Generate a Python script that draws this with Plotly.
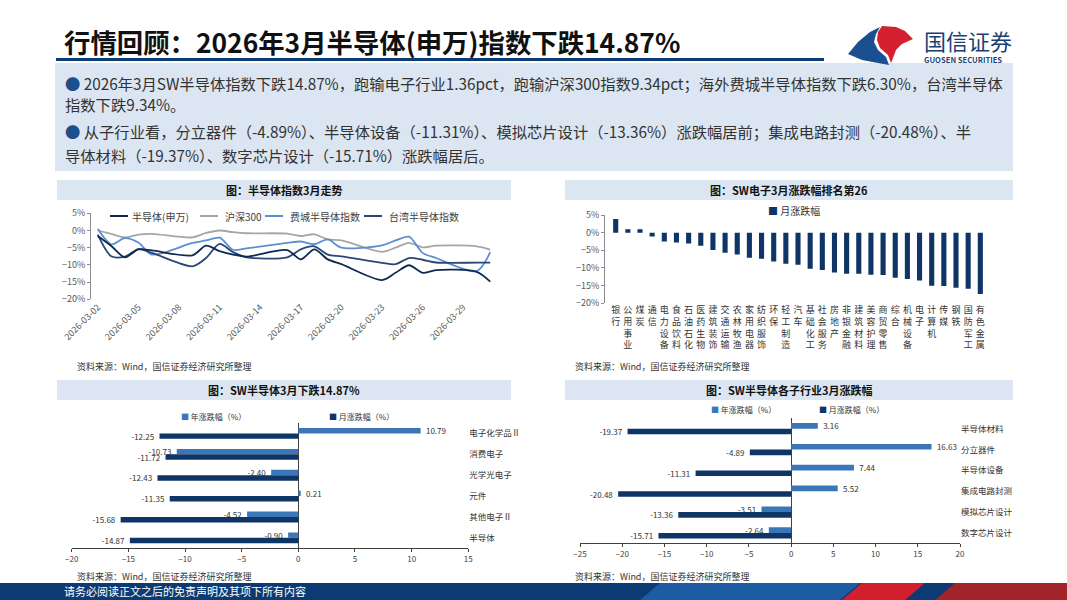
import pandas as pd
import plotly.graph_objects as go

W, H = 1067, 600
FONT = 'Noto Sans CJK SC'
NAVY = '#0f3566'
MID = '#3b77b8'
TICK = '#595959'
PALE = '#dce6f2'

# chart 1: 半导体指数3月走势 (cumulative change, %)
trade_dates = ['2026-03-02', '2026-03-03', '2026-03-04', '2026-03-05', '2026-03-06',
               '2026-03-09', '2026-03-10', '2026-03-11', '2026-03-12', '2026-03-13',
               '2026-03-16', '2026-03-17', '2026-03-18', '2026-03-19', '2026-03-20',
               '2026-03-23', '2026-03-24', '2026-03-25', '2026-03-26', '2026-03-27',
               '2026-03-30', '2026-03-31']
sw_semi = [-1.6, -4.5, -7.8, -5.5, -5.8, -7.2, -4.4, -6.0, -7.0, -7.6,
           -5.7, -8.4, -5.5, -8.4, -9.8, -14.4, -12.3, -10.1, -12.3, -11.5, -12.0, -14.87]
hs300 = [0.0, -1.0, -2.0, -1.2, -1.0, -2.0, -0.7, 0.0, -0.5, -0.8,
         -0.9, -1.6, -1.1, -2.6, -2.9, -6.2, -5.0, -3.6, -4.9, -4.4, -4.6, -5.53]
sox = [0.5, -4.0, -2.2, -3.5, -7.0, -3.6, -2.9, -2.1, -5.6, -5.2,
       -3.6, -3.2, -4.0, -2.6, -5.0, -4.3, -2.9, -1.8, -6.5, -8.0, -11.8, -6.30]
tw_semi = [-1.2, -7.5, -7.6, -5.4, -6.5, -10.4, -8.0, -3.9, -6.3, -7.8,
           -7.8, -5.5, -4.6, -7.0, -7.5, -9.4, -9.8, -8.0, -8.5, -9.3, -9.34, -9.34]

# chart 2: 申万一级行业3月涨跌幅 (%)
sw_inds = ['银行', '公用事业', '煤炭', '通信', '电力设备', '食品饮料', '石油石化', '医药生物',
           '建筑装饰', '交通运输', '农林牧渔', '家用电器', '纺织服饰', '环保', '轻工制造', '汽车',
           '基础化工', '社会服务', '房地产', '非银金融', '建筑材料', '美容护理', '商贸零售', '综合',
           '机械设备', '电子', '计算机', '传媒', '钢铁', '国防军工', '有色金属']
sw_month = [3.9, 1.0, 1.0, -1.1, -2.5, -2.8, -3.1, -3.7, -4.9, -5.7, -6.2, -7.1, -7.4,
            -8.2, -8.8, -9.1, -10.2, -10.6, -11.3, -11.6, -11.6, -11.9, -12.0, -12.8,
            -13.1, -13.51, -15.0, -15.1, -15.6, -15.9, -17.4]

# chart 3: 电子二级行业
elec_subs = ['电子化学品Ⅱ', '消费电子', '光学光电子', '元件', '其他电子Ⅱ', '半导体']
elec_year = [10.79, -10.73, -2.40, 0.21, -4.52, -0.90]
elec_month = [-12.25, -11.72, -12.43, -11.35, -15.68, -14.87]

# chart 4: 半导体子行业
semi_subs = ['半导体材料', '分立器件', '半导体设备', '集成电路封测', '模拟芯片设计', '数字芯片设计']
semi_year = [3.16, 16.63, 7.44, 5.52, -3.51, -2.64]
semi_month = [-19.37, -4.89, -11.31, -20.48, -13.36, -15.71]


def fx(x):
    return x / W


def fy(y):
    return 1 - y / H


def zero_pos(top, bottom, lo, hi):
    # paper position of value 0 on a vertical range
    return fy(bottom) + (0 - lo) / (hi - lo) * (fy(top) - fy(bottom))


def rect(x0, y0, x1, y1, color, layer='below'):
    return dict(type='rect', xref='paper', yref='paper', x0=fx(x0), x1=fx(x1),
                y0=fy(y1), y1=fy(y0), fillcolor=color, line_width=0, layer=layer)


def poly(pts, color):
    d = 'M ' + ' L '.join(f'{fx(a):.5f},{fy(b):.5f}' for a, b in pts) + ' Z'
    return dict(type='path', xref='paper', yref='paper', path=d, fillcolor=color,
                line_width=0, layer='above')


def seg(x0, x1, y, color, width=2):
    return dict(type='line', xref='paper', yref='paper', x0=fx(x0), x1=fx(x1),
                y0=fy(y), y1=fy(y), line=dict(color=color, width=width))


def txt(x, y, text, size=9, color='#333333', anchor='left'):
    return dict(xref='paper', yref='paper', x=fx(x), y=fy(y), text=text, showarrow=False,
                xanchor=anchor, yanchor='middle', font=dict(family=FONT, size=size, color=color))


def bar_labels(vals):
    # pad away from the bar end
    return [f'{v:.2f}   ' if v < 0 else f'   {v:.2f}' for v in vals]


fig = go.Figure()

# ---- chart 1 lines
line_cols = {'半导体(申万)': '#0c2a52', '沪深300': '#a6a6a6',
             '费城半导体指数': '#5b8fd4', '台湾半导体指数': '#2a4677'}
for name, vals in [('沪深300', hs300), ('费城半导体指数', sox),
                   ('台湾半导体指数', tw_semi), ('半导体(申万)', sw_semi)]:
    fig.add_trace(go.Scatter(x=trade_dates, y=vals, name=name, mode='lines',
                             line=dict(color=line_cols[name], width=1.8, shape='spline', smoothing=0.8),
                             xaxis='x', yaxis='y'))

# ---- chart 2 bars
fig.add_trace(go.Bar(x=sw_inds, y=sw_month, name='月涨跌幅', marker_color=NAVY, width=0.42,
                     xaxis='x3', yaxis='y3'))

# ---- chart 3 / 4 horizontal bars
lbl = dict(textposition='outside', constraintext='none', cliponaxis=False,
           textfont=dict(family=FONT, size=8, color='#333333'))
fig.add_trace(go.Bar(y=elec_subs, x=elec_year, orientation='h', name='年涨跌幅（%）',
                     text=bar_labels(elec_year), marker_color=MID, width=0.26, offset=-0.26,
                     xaxis='x5', yaxis='y5', **lbl))
fig.add_trace(go.Bar(y=elec_subs, x=elec_month, orientation='h', name='月涨跌幅（%）',
                     text=bar_labels(elec_month), marker_color=NAVY, width=0.26, offset=0.0,
                     xaxis='x5', yaxis='y5', **lbl))
fig.add_trace(go.Bar(y=semi_subs, x=semi_year, orientation='h', name='年涨跌幅（%）',
                     text=bar_labels(semi_year), marker_color=MID, width=0.27, offset=-0.27,
                     xaxis='x6', yaxis='y6', **lbl))
fig.add_trace(go.Bar(y=semi_subs, x=semi_month, orientation='h', name='月涨跌幅（%）',
                     text=bar_labels(semi_month), marker_color=NAVY, width=0.27, offset=0.0,
                     xaxis='x6', yaxis='y6', **lbl))

tickfont = dict(family=FONT, size=9, color=TICK)
small_font = dict(family=FONT, size=8, color='#404040')

date_rng = ['2026-03-01 12:00', '2026-03-31 12:00']
label_days = [d.strftime('%Y-%m-%d') for d in pd.date_range('2026-03-02', '2026-03-31', freq='3D')]
bound_days = [d.strftime('%Y-%m-%d %H:%M') for d in pd.date_range(date_rng[0], date_rng[1], freq='3D')]
ind_range = [-0.88, 30.55]
c1 = (213.3, 299.3)
c2 = (215.0, 303.3)
c3 = (423.0, 548.3)
c4 = (418.3, 543.3)
x5_dom = [fx(71.7), fx(468.3)]
x6_dom = [fx(580), fx(960)]
sub_bounds = [i - 0.5 for i in range(len(elec_subs) + 1)]

fig.update_layout(
    template='none',
    width=W, height=H, margin=dict(l=0, r=0, t=0, b=0, pad=0, autoexpand=False),
    paper_bgcolor='white', plot_bgcolor='rgba(0,0,0,0)',
    showlegend=False, barmode='overlay',
    font=dict(family=FONT, color='#333333'),
    xaxis=dict(domain=[fx(91), fx(497)], anchor='y', type='date', range=date_rng,
               tickvals=label_days, tickformat='%Y-%m-%d', tickangle=-45, tickfont=tickfont,
               showgrid=False, showline=False, ticks='', zeroline=False),
    yaxis=dict(domain=[fy(c1[1]), fy(c1[0])], anchor='x', range=[-20, 5], dtick=5,
               ticksuffix='%', tickfont=tickfont, showgrid=False, zeroline=False,
               showline=True, linecolor='#8c8c8c', ticks='outside', ticklen=3, tickcolor='#8c8c8c'),
    xaxis2=dict(overlaying='x', anchor='free', position=zero_pos(*c1, -20, 5), type='date',
                range=date_rng, tickvals=bound_days, showticklabels=False, showgrid=False,
                zeroline=False, showline=True, linecolor='#404040', ticks='outside',
                ticklen=3, tickcolor='#404040'),
    xaxis3=dict(domain=[fx(605), fx(987)], anchor='y3', type='category', range=ind_range,
                tickvals=sw_inds, ticktext=['<br>'.join(c) for c in sw_inds], tickangle=0,
                tickfont=dict(family=FONT, size=9, color='#333333'),
                showgrid=False, showline=False, ticks='', zeroline=False),
    yaxis3=dict(domain=[fy(c2[1]), fy(c2[0])], anchor='x3', range=[-20, 5], dtick=5,
                ticksuffix='%', tickfont=tickfont, showgrid=False, zeroline=False,
                showline=True, linecolor='#8c8c8c', ticks='outside', ticklen=3, tickcolor='#8c8c8c'),
    xaxis4=dict(overlaying='x3', anchor='free', position=zero_pos(*c2, -20, 5), range=ind_range,
                tickvals=[i - 0.5 for i in range(len(sw_inds) + 1)], showticklabels=False,
                showgrid=False, zeroline=False, showline=True, linecolor='#404040',
                ticks='outside', ticklen=3, tickcolor='#404040'),
    xaxis5=dict(domain=x5_dom, anchor='y5', range=[-20, 15], dtick=5,
                tickfont=small_font, showgrid=False, showline=True, linecolor='#404040',
                ticks='outside', ticklen=3, tickcolor='#404040',
                zeroline=True, zerolinecolor='#404040', zerolinewidth=1),
    yaxis5=dict(domain=[fy(c3[1]), fy(c3[0])], anchor='x5', type='category', range=[5.5, -0.5],
                side='right', tickfont=dict(family=FONT, size=8.5, color='#333333'),
                showgrid=False, showline=False, ticks='', zeroline=False),
    yaxis7=dict(overlaying='y5', anchor='free', side='left', range=[5.5, -0.5],
                position=x5_dom[0] + 20 / 35 * (x5_dom[1] - x5_dom[0]),
                tickvals=sub_bounds, showticklabels=False, showgrid=False, zeroline=False,
                showline=False, ticks='outside', ticklen=3, tickcolor='#404040'),
    xaxis6=dict(domain=x6_dom, anchor='y6', range=[-25, 20], dtick=5,
                tickfont=small_font, showgrid=False, showline=True, linecolor='#404040',
                ticks='outside', ticklen=3, tickcolor='#404040',
                zeroline=True, zerolinecolor='#404040', zerolinewidth=1),
    yaxis6=dict(domain=[fy(c4[1]), fy(c4[0])], anchor='x6', type='category', range=[5.5, -0.5],
                side='right', tickfont=dict(family=FONT, size=8.5, color='#333333'),
                showgrid=False, showline=False, ticks='', zeroline=False),
    yaxis8=dict(overlaying='y6', anchor='free', side='left', range=[5.5, -0.5],
                position=x6_dom[0] + 25 / 45 * (x6_dom[1] - x6_dom[0]),
                tickvals=sub_bounds, showticklabels=False, showgrid=False, zeroline=False,
                showline=False, ticks='outside', ticklen=3, tickcolor='#404040'),
)
fig.update_xaxes(automargin=False)
fig.update_yaxes(automargin=False)

shapes = [
    # header
    dict(type='line', xref='paper', yref='paper', x0=fx(56), x1=fx(824), y0=fy(59.5), y1=fy(59.5),
         line=dict(color='#0b3d78', width=3)),
    rect(55, 63, 1013, 171, PALE),
    # panel title bars
    rect(57, 180, 511, 200, PALE), rect(565, 180, 1013, 200, PALE),
    rect(57, 380, 511, 400, PALE), rect(565, 380, 1013, 400, PALE),
    # footer band
    rect(0, 583, 1067, 600, '#0c3a72', layer='above'),
    poly([(640, 600), (660, 583), (860, 583), (840, 600)], '#1d5ba3'),
    poly([(842, 600), (862, 583), (925, 583), (905, 600)], '#d11f2d'),
    poly([(935, 600), (955, 583), (1067, 583), (1067, 600)], '#a3232b'),
    # logo
    poly([(848, 54), (858, 42), (870, 32), (880, 27), (876, 34), (874, 42), (878, 50),
          (886, 57), (889, 65), (878, 63), (862, 60)], '#1b4f8f'),
    poly([(882, 26), (896, 27), (905, 31), (913, 39), (902, 44), (896, 50), (893, 58),
          (891, 63), (888, 55), (880, 48), (877, 40), (878, 32)], '#d4202f'),
]

leg1 = [('半导体(申万)', 110, 130), ('沪深300', 200, 223), ('费城半导体指数', 265, 288),
        ('台湾半导体指数', 364, 387)]
for name, lx, tx in leg1:
    shapes.append(seg(lx, lx + 18, 216, line_cols[name]))

ann = [
    txt(62, 41, '<b>行情回顾：2026年3月半导体(申万)指数下跌14.87%</b>', size=26.4, color='#111111'),
    txt(922, 40, '国信证券', size=22, color='#1b3f74'),
    txt(922, 60, '<b>GUOSEN SECURITIES</b>', size=7.6, color='#1b3f74'),
    txt(63, 83, '<span style="color:#1f4e8c">●</span> 2026年3月SW半导体指数下跌14.87%，跑输电子行业1.36pct，'
                '跑输沪深300指数9.34pct；海外费城半导体指数下跌6.30%，台湾半导体', size=15.3, color='#333333'),
    txt(63, 104, '指数下跌9.34%。', size=15.3, color='#333333'),
    txt(63, 131, '<span style="color:#1f4e8c">●</span> 从子行业看，分立器件（-4.89%）、半导体设备（-11.31%）、'
                 '模拟芯片设计（-13.36%）涨跌幅居前；集成电路封测（-20.48%）、半', size=15.3, color='#333333'),
    txt(63, 155, '导体材料（-19.37%）、数字芯片设计（-15.71%）涨跌幅居后。', size=15.3, color='#333333'),
    txt(284, 190, '<b>图：半导体指数3月走势</b>', size=11, color='#111111', anchor='center'),
    txt(789, 190, '<b>图：SW电子3月涨跌幅排名第26</b>', size=11, color='#111111', anchor='center'),
    txt(284, 390, '<b>图：SW半导体3月下跌14.87%</b>', size=11, color='#111111', anchor='center'),
    txt(789, 390, '<b>图：SW半导体各子行业3月涨跌幅</b>', size=11, color='#111111', anchor='center'),
    txt(75, 366, '资料来源：Wind，国信证券经济研究所整理', size=9),
    txt(573, 366, '资料来源：Wind，国信证券经济研究所整理', size=9),
    txt(75, 576, '资料来源：Wind，国信证券经济研究所整理', size=9),
    txt(573, 576, '资料来源：Wind，国信证券经济研究所整理', size=9),
    txt(62, 591, '请务必阅读正文之后的免责声明及其项下所有内容', size=11, color='white'),
    txt(766, 210, f'<span style="color:{NAVY}">■</span> 月涨跌幅', size=10),
    txt(179, 417, f'<span style="color:{MID}">■</span> 年涨跌幅（%）', size=8),
    txt(327, 417, f'<span style="color:{NAVY}">■</span> 月涨跌幅（%）', size=8),
    txt(709, 409, f'<span style="color:{MID}">■</span> 年涨跌幅（%）', size=8),
    txt(817, 409, f'<span style="color:{NAVY}">■</span> 月涨跌幅（%）', size=8),
]
for name, lx, tx in leg1:
    ann.append(txt(tx, 216, name, size=10, color='#404040'))

fig.update_layout(shapes=shapes, annotations=ann)

fig.write_html('out.html', config={'displayModeBar': False},
               post_script="document.body.style.margin='0';")
